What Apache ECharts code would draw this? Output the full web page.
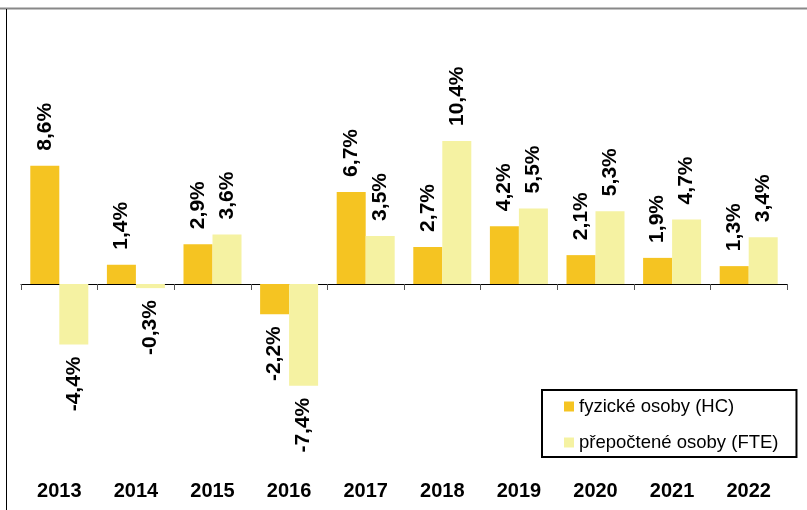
<!DOCTYPE html>
<html>
<head>
    <meta charset="utf-8">
    <script src="https://cdn.jsdelivr.net/npm/echarts@6/dist/echarts.min.js"></script>
    <style>
        html, body { margin: 0; padding: 0; background: #fff; }
        #main { width: 807px; height: 510px; }
    </style>
</head>
<body>
<div id="main"></div>
<script type="text/javascript">
    // data
    var years = ['2013', '2014', '2015', '2016', '2017', '2018', '2019', '2020', '2021', '2022'];
    var hcValues = [8.6, 1.4, 2.9, -2.2, 6.7, 2.7, 4.2, 2.1, 1.9, 1.3];
    var fteValues = [-4.4, -0.3, 3.6, -7.4, 3.5, 10.4, 5.5, 5.3, 4.7, 3.4];
    var seriesNames = ['fyzické osoby (HC)', 'přepočtené osoby (FTE)'];

    var fontName = '"Liberation Sans", Arial, sans-serif';

    // negative bars get their label below the bar
    function buildData(vals) {
        return vals.map(function (v) {
            if (v < 0) {
                return { value: v, label: { position: 'bottom', align: 'right', distance: 12 } };
            }
            return v;
        });
    }

    var barLabel = {
        show: true,
        position: 'top',
        rotate: 90,
        align: 'left',
        verticalAlign: 'middle',
        distance: 15,
        fontSize: 21,
        fontWeight: 'bold',
        fontFamily: fontName,
        color: '#000',
        formatter: function (p) {
            return p.value.toFixed(1).replace('.', ',') + '%';
        }
    };

    var myChart = echarts.init(document.getElementById('main'));
    var opt = {
        animation: false,
        backgroundColor: '#fff',
        grid: { left: 21, right: 20, top: 9, bottom: 33.5 },
        legend: {
            orient: 'vertical',
            left: 542,
            top: 390,
            padding: [7, 18, 5, 22],
            itemGap: 17,
            itemWidth: 10,
            itemHeight: 10,
            icon: 'rect',
            borderColor: '#000',
            borderWidth: 2,
            textStyle: { fontSize: 18.5, fontFamily: fontName, color: '#000' },
            data: seriesNames
        },
        xAxis: [
            {
                type: 'category',
                position: 'bottom',
                data: years,
                axisLine: { onZero: true, lineStyle: { color: '#000', width: 1 } },
                axisTick: { show: true, length: 6, lineStyle: { color: '#555' } },
                axisLabel: { show: false }
            },
            {
                type: 'category',
                position: 'bottom',
                data: years,
                axisLine: { show: false, onZero: false },
                axisTick: { show: false },
                axisLabel: {
                    margin: 5,
                    fontSize: 20,
                    fontWeight: 'bold',
                    fontFamily: fontName,
                    color: '#000'
                }
            }
        ],
        yAxis: {
            type: 'value',
            min: -14,
            max: 20,
            show: false,
            splitLine: { show: false }
        },
        series: [
            {
                name: seriesNames[0],
                type: 'bar',
                xAxisIndex: 0,
                barWidth: 29,
                barGap: '0%',
                itemStyle: { color: '#F5C422' },
                label: barLabel,
                data: buildData(hcValues)
            },
            {
                name: seriesNames[1],
                type: 'bar',
                xAxisIndex: 0,
                barWidth: 29,
                barGap: '0%',
                itemStyle: { color: '#F5F2A2' },
                label: barLabel,
                data: buildData(fteValues)
            }
        ],
        graphic: [
            {
                type: 'line',
                shape: { x1: 0, y1: 8.5, x2: 807, y2: 8.5 },
                style: { stroke: '#888', lineWidth: 2 }
            },
            {
                type: 'line',
                shape: { x1: 6.5, y1: 9, x2: 6.5, y2: 510 },
                style: { stroke: '#000', lineWidth: 1 }
            }
        ]
    };

    myChart.setOption(opt);
</script>
</body>
</html>
